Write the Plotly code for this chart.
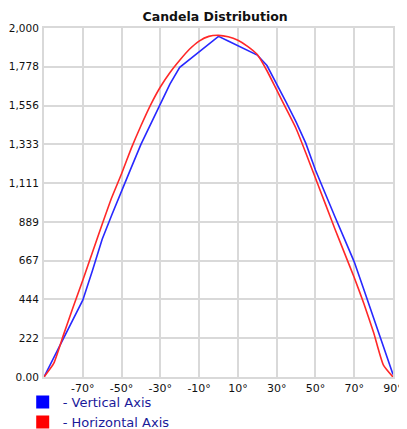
import plotly.graph_objects as go

angles = list(range(-90, 91, 5))
vertical = [0, 110, 225, 330, 440, 610, 790, 930, 1060, 1200, 1333, 1450, 1558, 1680,
            1775, 1820, 1862, 1906, 1952, 1925, 1898, 1872, 1845, 1785, 1682, 1572,
            1462, 1340, 1186, 1050, 920, 790, 660, 500, 340, 180, 15]
horizontal = [0, 78, 240, 400, 555, 715, 875, 1030, 1165, 1310, 1440, 1560, 1662, 1745,
              1815, 1878, 1925, 1952, 1958, 1950, 1930, 1895, 1848, 1755, 1645, 1535,
              1424, 1285, 1140, 995, 850, 710, 570, 420, 255, 70, 0]

x_tickvals = [-70, -50, -30, -10, 10, 30, 50, 70, 90]
x_ticktext = ["-70°", "-50°", "-30°", "-10°", "10°", "30°", "50°", "70°", "90°"]
y_tickvals = [2000 * i / 9 for i in range(10)]
y_ticktext = ["0.00", "222", "444", "667", "889", "1,111", "1,333", "1,556", "1,778", "2,000"]

blue = "rgb(40,40,255)"
red = "rgb(255,40,40)"

fig = go.Figure()
fig.add_trace(go.Scatter(x=angles, y=vertical, mode="lines", line=dict(color=blue, width=1.6),
                         showlegend=False, hoverinfo="skip"))
fig.add_trace(go.Scatter(x=angles, y=horizontal, mode="lines",
                         line=dict(color=red, width=1.6, shape="spline", smoothing=0.5),
                         showlegend=False, hoverinfo="skip"))
fig.add_trace(go.Scatter(x=[None], y=[None], mode="markers", name="- Vertical Axis",
                         marker=dict(symbol="square", size=13, color="rgb(0,0,255)")))
fig.add_trace(go.Scatter(x=[None], y=[None], mode="markers", name="- Horizontal Axis",
                         marker=dict(symbol="square", size=13, color="rgb(255,0,0)")))

grid = "#d9d9d9"
fig.update_layout(
    width=407, height=429,
    margin=dict(l=36, r=22, t=20, b=60, autoexpand=False),
    paper_bgcolor="white", plot_bgcolor="white",
    font=dict(family="DejaVu Sans, Verdana, sans-serif", size=11, color="#111111"),
    title=dict(text="<b>Candela Distribution</b>", x=0.509, xanchor="center", y=0.99, yanchor="top",
               font=dict(size=12.5, color="#111111")),
    xaxis=dict(range=[-90, 90], tickvals=x_tickvals, ticktext=x_ticktext, showgrid=True,
               gridcolor=grid, gridwidth=2, zeroline=False, showline=True, linecolor=grid,
               linewidth=2, mirror=True, ticks="", tickfont=dict(size=11), fixedrange=True,
               automargin=False),
    yaxis=dict(range=[0, 2000], tickvals=y_tickvals, ticktext=y_ticktext, showgrid=True,
               gridcolor=grid, gridwidth=2, zeroline=False, showline=True, linecolor=grid,
               linewidth=2, mirror=True, ticks="", tickfont=dict(size=10.5), fixedrange=True,
               automargin=False, ticklabelstandoff=1),
    legend=dict(x=-0.061, y=-0.029, xanchor="left", yanchor="top", orientation="v",
                font=dict(family="DejaVu Sans, Verdana, sans-serif", size=13, color="#1a1a9a"),
                itemwidth=30, tracegroupgap=0, bgcolor="rgba(0,0,0,0)"),
    showlegend=True,
)

fig.write_html("out.html")
